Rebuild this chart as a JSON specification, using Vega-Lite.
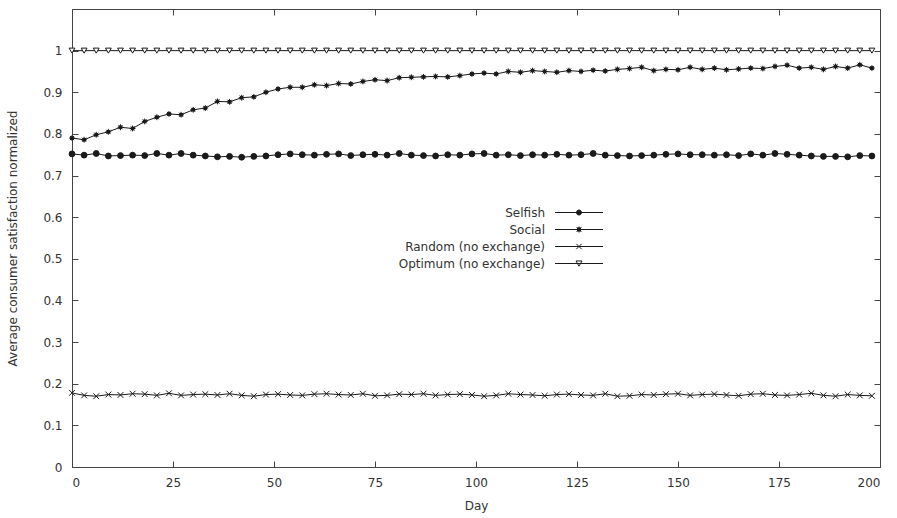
{
  "$schema": "https://vega.github.io/schema/vega-lite/v6.json",
  "width": 808,
  "height": 458,
  "autosize": {"type": "none"},
  "padding": {"left": 72, "top": 9, "right": 17, "bottom": 51},
  "background": "white",
  "config": {
    "view": {"stroke": "#444", "strokeWidth": 1},
    "font": "DejaVu Sans",
    "axis": {
      "labelFont": "DejaVu Sans", "titleFont": "DejaVu Sans",
      "labelFontSize": 12, "titleFontSize": 12,
      "labelColor": "#333", "titleColor": "#333", "titleFontWeight": "normal",
      "domainColor": "#444", "tickColor": "#444", "grid": false, "tickSize": -6
    }
  },
  "data": {"values": [
    {"day":0,"Selfish":0.752,"Social":0.790,"Random":0.178,"Optimum":1},
    {"day":3,"Selfish":0.749,"Social":0.786,"Random":0.172,"Optimum":1},
    {"day":6,"Selfish":0.753,"Social":0.798,"Random":0.170,"Optimum":1},
    {"day":9,"Selfish":0.747,"Social":0.805,"Random":0.174,"Optimum":1},
    {"day":12,"Selfish":0.748,"Social":0.816,"Random":0.173,"Optimum":1},
    {"day":15,"Selfish":0.749,"Social":0.813,"Random":0.176,"Optimum":1},
    {"day":18,"Selfish":0.748,"Social":0.830,"Random":0.175,"Optimum":1},
    {"day":21,"Selfish":0.753,"Social":0.840,"Random":0.172,"Optimum":1},
    {"day":24,"Selfish":0.749,"Social":0.848,"Random":0.177,"Optimum":1},
    {"day":27,"Selfish":0.753,"Social":0.846,"Random":0.172,"Optimum":1},
    {"day":30,"Selfish":0.749,"Social":0.858,"Random":0.174,"Optimum":1},
    {"day":33,"Selfish":0.747,"Social":0.862,"Random":0.175,"Optimum":1},
    {"day":36,"Selfish":0.745,"Social":0.878,"Random":0.173,"Optimum":1},
    {"day":39,"Selfish":0.746,"Social":0.877,"Random":0.176,"Optimum":1},
    {"day":42,"Selfish":0.744,"Social":0.887,"Random":0.172,"Optimum":1},
    {"day":45,"Selfish":0.746,"Social":0.889,"Random":0.170,"Optimum":1},
    {"day":48,"Selfish":0.747,"Social":0.900,"Random":0.174,"Optimum":1},
    {"day":51,"Selfish":0.750,"Social":0.908,"Random":0.175,"Optimum":1},
    {"day":54,"Selfish":0.752,"Social":0.912,"Random":0.173,"Optimum":1},
    {"day":57,"Selfish":0.750,"Social":0.912,"Random":0.172,"Optimum":1},
    {"day":60,"Selfish":0.749,"Social":0.918,"Random":0.175,"Optimum":1},
    {"day":63,"Selfish":0.751,"Social":0.916,"Random":0.176,"Optimum":1},
    {"day":66,"Selfish":0.752,"Social":0.921,"Random":0.174,"Optimum":1},
    {"day":69,"Selfish":0.748,"Social":0.920,"Random":0.173,"Optimum":1},
    {"day":72,"Selfish":0.750,"Social":0.926,"Random":0.176,"Optimum":1},
    {"day":75,"Selfish":0.751,"Social":0.930,"Random":0.171,"Optimum":1},
    {"day":78,"Selfish":0.749,"Social":0.928,"Random":0.172,"Optimum":1},
    {"day":81,"Selfish":0.753,"Social":0.935,"Random":0.175,"Optimum":1},
    {"day":84,"Selfish":0.749,"Social":0.936,"Random":0.174,"Optimum":1},
    {"day":87,"Selfish":0.748,"Social":0.937,"Random":0.176,"Optimum":1},
    {"day":90,"Selfish":0.747,"Social":0.938,"Random":0.172,"Optimum":1},
    {"day":93,"Selfish":0.750,"Social":0.937,"Random":0.174,"Optimum":1},
    {"day":96,"Selfish":0.749,"Social":0.940,"Random":0.175,"Optimum":1},
    {"day":99,"Selfish":0.752,"Social":0.944,"Random":0.173,"Optimum":1},
    {"day":102,"Selfish":0.753,"Social":0.946,"Random":0.170,"Optimum":1},
    {"day":105,"Selfish":0.749,"Social":0.944,"Random":0.172,"Optimum":1},
    {"day":108,"Selfish":0.750,"Social":0.950,"Random":0.176,"Optimum":1},
    {"day":111,"Selfish":0.748,"Social":0.948,"Random":0.174,"Optimum":1},
    {"day":114,"Selfish":0.750,"Social":0.952,"Random":0.173,"Optimum":1},
    {"day":117,"Selfish":0.749,"Social":0.950,"Random":0.171,"Optimum":1},
    {"day":120,"Selfish":0.751,"Social":0.948,"Random":0.174,"Optimum":1},
    {"day":123,"Selfish":0.749,"Social":0.952,"Random":0.175,"Optimum":1},
    {"day":126,"Selfish":0.750,"Social":0.950,"Random":0.173,"Optimum":1},
    {"day":129,"Selfish":0.753,"Social":0.953,"Random":0.172,"Optimum":1},
    {"day":132,"Selfish":0.749,"Social":0.951,"Random":0.176,"Optimum":1},
    {"day":135,"Selfish":0.748,"Social":0.955,"Random":0.170,"Optimum":1},
    {"day":138,"Selfish":0.747,"Social":0.957,"Random":0.171,"Optimum":1},
    {"day":141,"Selfish":0.748,"Social":0.960,"Random":0.174,"Optimum":1},
    {"day":144,"Selfish":0.749,"Social":0.952,"Random":0.173,"Optimum":1},
    {"day":147,"Selfish":0.751,"Social":0.955,"Random":0.175,"Optimum":1},
    {"day":150,"Selfish":0.752,"Social":0.954,"Random":0.176,"Optimum":1},
    {"day":153,"Selfish":0.750,"Social":0.960,"Random":0.172,"Optimum":1},
    {"day":156,"Selfish":0.750,"Social":0.955,"Random":0.174,"Optimum":1},
    {"day":159,"Selfish":0.749,"Social":0.958,"Random":0.175,"Optimum":1},
    {"day":162,"Selfish":0.750,"Social":0.954,"Random":0.173,"Optimum":1},
    {"day":165,"Selfish":0.748,"Social":0.956,"Random":0.171,"Optimum":1},
    {"day":168,"Selfish":0.752,"Social":0.958,"Random":0.175,"Optimum":1},
    {"day":171,"Selfish":0.749,"Social":0.957,"Random":0.176,"Optimum":1},
    {"day":174,"Selfish":0.753,"Social":0.962,"Random":0.173,"Optimum":1},
    {"day":177,"Selfish":0.751,"Social":0.965,"Random":0.172,"Optimum":1},
    {"day":180,"Selfish":0.749,"Social":0.958,"Random":0.174,"Optimum":1},
    {"day":183,"Selfish":0.747,"Social":0.960,"Random":0.177,"Optimum":1},
    {"day":186,"Selfish":0.746,"Social":0.955,"Random":0.172,"Optimum":1},
    {"day":189,"Selfish":0.746,"Social":0.962,"Random":0.170,"Optimum":1},
    {"day":192,"Selfish":0.745,"Social":0.958,"Random":0.174,"Optimum":1},
    {"day":195,"Selfish":0.748,"Social":0.966,"Random":0.172,"Optimum":1},
    {"day":198,"Selfish":0.747,"Social":0.958,"Random":0.171,"Optimum":1}
  ]},
  "transform": [{"fold": ["Selfish", "Social", "Random", "Optimum"], "as": ["series", "value"]}],
  "layer": [
    {
      "mark": {"type": "line", "color": "#1a1a1a", "strokeWidth": 1},
      "encoding": {
        "x": {"field": "day", "type": "quantitative",
          "scale": {"domain": [0, 200], "nice": false},
          "axis": {"orient": "bottom", "values": [0,25,50,75,100,125,150,175,200], "title": "Day",
            "labelPadding": 16, "titleY": 38, "titleBaseline": "middle"}},
        "y": {"field": "value", "type": "quantitative",
          "scale": {"domain": [0, 1.1], "nice": false},
          "axis": {"orient": "left", "values": [0,0.1,0.2,0.3,0.4,0.5,0.6,0.7,0.8,0.9,1], "format": "~g",
            "title": "Average consumer satisfaction normalized", "labelPadding": 16,
            "titleX": -60, "titleBaseline": "middle"}},
        "detail": {"field": "series"}
      }
    },
    {
      "mark": {"type": "point", "strokeWidth": 1, "size": 34, "opacity": 1, "stroke": "#1a1a1a"},
      "encoding": {
        "x": {"field": "day", "type": "quantitative",
          "axis": {"orient": "top", "labels": false, "title": null, "domain": false,
            "values": [0,25,50,75,100,125,150,175,200]}},
        "y": {"field": "value", "type": "quantitative",
          "axis": {"orient": "right", "labels": false, "title": null, "domain": false,
            "values": [0,0.1,0.2,0.3,0.4,0.5,0.6,0.7,0.8,0.9,1]}},
        "shape": {"field": "series", "type": "nominal",
          "scale": {"domain": ["Selfish", "Social", "Random", "Optimum"],
            "range": ["circle",
              "M-1,0H1M0,-1V1M-0.7,-0.7L0.7,0.7M-0.7,0.7L0.7,-0.7M-0.45,-0.45H0.45V0.45H-0.45Z",
              "M-1,-1L1,1M-1,1L1,-1",
              "triangle-down"]},
          "legend": null},
        "fill": {"field": "series", "type": "nominal",
          "scale": {"domain": ["Selfish", "Social", "Random", "Optimum"],
            "range": ["#1a1a1a", "#1a1a1a", "transparent", "white"]},
          "legend": null}
      }
    },
    {
      "mark": {"type": "point", "strokeWidth": 1, "size": 144, "opacity": 0, "stroke": "#1a1a1a"},
      "encoding": {
        "x": {"field": "day", "type": "quantitative", "axis": null},
        "y": {"field": "value", "type": "quantitative", "axis": null},
        "shape": {"field": "series", "type": "nominal",
          "scale": {"domain": ["Selfish", "Social", "Random", "Optimum"],
            "range": [
              "M-4,0H4M-0.42,0A0.42,0.42 0 1,0 0.42,0A0.42,0.42 0 1,0 -0.42,0Z",
              "M-4,0H4M0,-0.5V0.5M-0.4,-0.4L0.4,0.4M-0.4,0.4L0.4,-0.4M-0.25,-0.25H0.25V0.25H-0.25Z",
              "M-4,0H4M-0.45,-0.45L0.45,0.45M-0.45,0.45L0.45,-0.45",
              "M-4,0H4M-0.5,-0.42L0.5,-0.42L0,0.45Z"]},
          "legend": {
            "title": null, "orient": "none", "legendX": 483, "legendY": 197,
            "labelFont": "DejaVu Sans", "labelFontSize": 12, "labelColor": "#333",
            "symbolSize": 144, "symbolStrokeWidth": 1, "symbolStrokeColor": "#1a1a1a",
            "symbolOpacity": 1, "rowPadding": 4,
            "labelExpr": "datum.value == 'Random' ? 'Random (no exchange)' : datum.value == 'Optimum' ? 'Optimum (no exchange)' : datum.value",
            "encoding": {
              "symbols": {
                "fill": {"value": {"expr": "datum.value == 'Selfish' || datum.value == 'Social' ? '#1a1a1a' : 'transparent'"}},
                "stroke": {"value": "#1a1a1a"},
                "opacity": {"value": 1},
                "x": {"value": 24}
              },
              "labels": {
                "x": {"value": -10},
                "align": {"value": "right"}
              }
            }
          }}
      }
    }
  ],
  "resolve": {"axis": {"x": "independent", "y": "independent"}, "scale": {"shape": "independent"}}
}
